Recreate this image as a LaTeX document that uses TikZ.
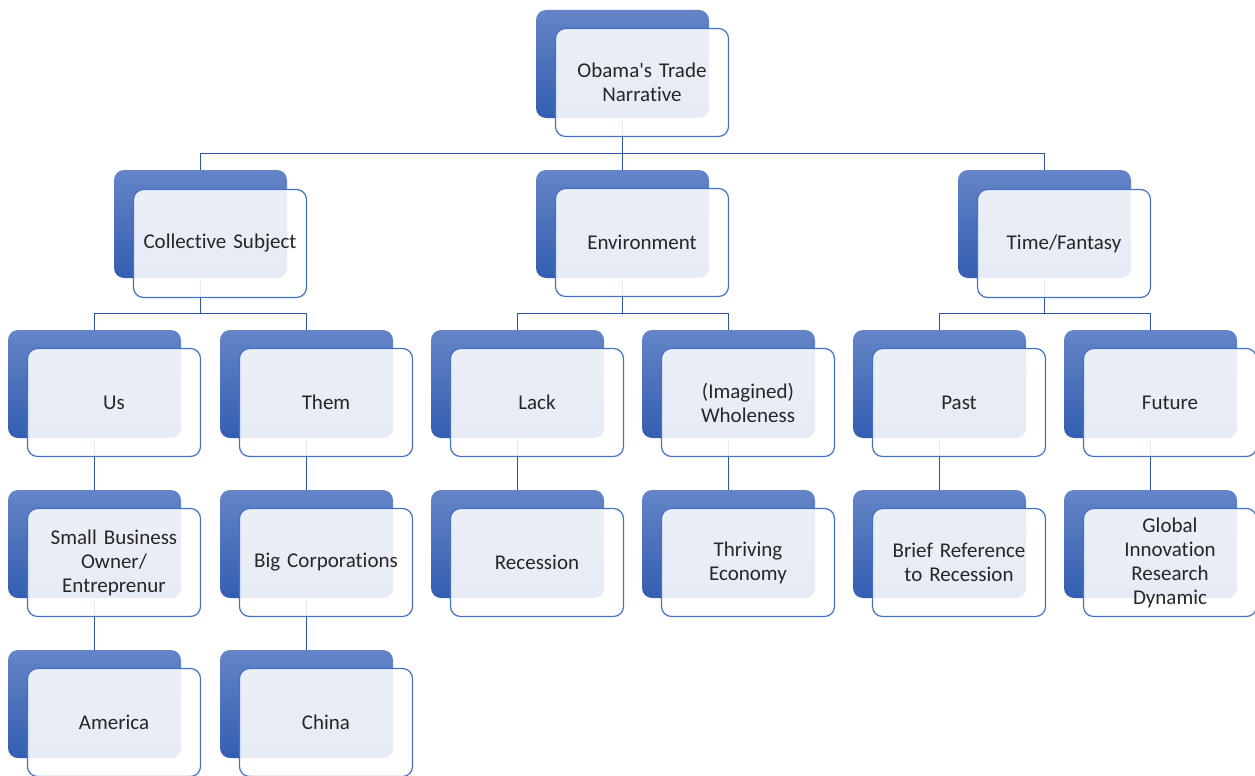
\documentclass[tikz,border=0pt]{standalone}
\usepackage{fontspec}
\setmainfont{Carlito}[Ligatures={NoCommon}]
\begin{document}
\begin{tikzpicture}[x=1pt,y=-1pt]
            \tikzstyle{back} = [rectangle, rounded corners=10pt,
            minimum width=173pt,
            minimum height=108pt,
            inner sep=0pt,
            top color=myblueA, bottom color=myblueB, draw=none]
            \tikzstyle{front} = [rectangle, rounded corners=10pt,
            minimum width=173pt,
            minimum height=108pt,
            text width=165pt,
            align=center,
            inner sep=0pt,
            text=mytext,
            font=\fontsize{21}{24}\selectfont,
            draw=myline, line width=1.2pt,
            fill=white, fill opacity=0.88, text opacity=1]
            \definecolor{myblueA}{RGB}{100, 132, 198}
            \definecolor{myblueB}{RGB}{52, 94, 178}
            \definecolor{myline}{RGB}{68, 114, 196}
            \definecolor{mylink}{RGB}{47, 85, 160}
            \definecolor{mytext}{RGB}{38, 38, 38}
            \tikzstyle{link} = [mylink, line width=1.4pt]
            \useasboundingbox (0,0) rectangle (1255,776);

            % back boxes
            \node (b0)[back] at (622.5,64) {};
            \node (b1)[back] at (200.5,224) {};
            \node (b2)[back] at (622.5,224) {};
            \node (b3)[back] at (1044.5,224) {};
            \node (b11)[back] at (94.5,384) {};
            \node (b12)[back] at (306.5,384) {};
            \node (b21)[back] at (517.5,384) {};
            \node (b22)[back] at (728.5,384) {};
            \node (b31)[back] at (939.5,384) {};
            \node (b32)[back] at (1150.5,384) {};
            \node (b111)[back] at (94.5,544) {};
            \node (b121)[back] at (306.5,544) {};
            \node (b211)[back] at (517.5,544) {};
            \node (b221)[back] at (728.5,544) {};
            \node (b311)[back] at (939.5,544) {};
            \node (b321)[back] at (1150.5,544) {};
            \node (b1111)[back] at (94.5,704) {};
            \node (b1211)[back] at (306.5,704) {};

            % connectors
            \draw [link] (b0.south) -- ++(0,35) -| (b1.north);
            \draw [link] (b0.south) -- (b2.north);
            \draw [link] (b0.south) -- ++(0,35) -| (b3.north);
            \draw [link] (b1.south) -- ++(0,35) -| (b11.north);
            \draw [link] (b1.south) -- ++(0,35) -| (b12.north);
            \draw [link] (b2.south) -- ++(0,35) -| (b21.north);
            \draw [link] (b2.south) -- ++(0,35) -| (b22.north);
            \draw [link] (b3.south) -- ++(0,35) -| (b31.north);
            \draw [link] (b3.south) -- ++(0,35) -| (b32.north);
            \draw [link] (b11) -- (b111);
            \draw [link] (b12) -- (b121);
            \draw [link] (b21) -- (b211);
            \draw [link] (b22) -- (b221);
            \draw [link] (b31) -- (b311);
            \draw [link] (b32) -- (b321);
            \draw [link] (b111) -- (b1111);
            \draw [link] (b121) -- (b1211);

            % front boxes
            \node (obama)[front] at ([shift={(19.5,18.5)}]b0) {Obama\textquotesingle s Trade\\ Narrative};
            \node (subject)[front] at ([shift={(19.5,19.5)}]b1) {Collective Subject};
            \node (environment)[front] at ([shift={(19.5,18.5)}]b2) {Environment};
            \node (time)[front] at ([shift={(19.5,19.5)}]b3) {Time/Fantasy};
            \node (us)[front] at ([shift={(19.5,18.5)}]b11) {Us};
            \node (them)[front] at ([shift={(19.5,18.5)}]b12) {Them};
            \node (lack)[front] at ([shift={(19.5,18.5)}]b21) {Lack};
            \node (wholeness)[front] at ([shift={(19.5,18.5)}]b22) {(Imagined)\\ Wholeness};
            \node (past)[front] at ([shift={(19.5,18.5)}]b31) {Past};
            \node (future)[front] at ([shift={(19.5,18.5)}]b32) {Future};
            \node (owner)[front] at ([shift={(19.5,18.5)}]b111) {Small Business\\ Owner/\\ Entreprenur};
            \node (corps)[front] at ([shift={(19.5,18.5)}]b121) {Big Corporations};
            \node (recession)[front] at ([shift={(19.5,18.5)}]b211) {Recession};
            \node (economy)[front] at ([shift={(19.5,18.5)}]b221) {Thriving\\ Economy};
            \node (brief)[front] at ([shift={(19.5,18.5)}]b311) {Brief Reference\\ to Recession};
            \node (global)[front] at ([shift={(19.5,18.5)}]b321) {Global\\ Innovation\\ Research\\ Dynamic};
            \node (america)[front] at ([shift={(19.5,18.5)}]b1111) {America};
            \node (china)[front] at ([shift={(19.5,18.5)}]b1211) {China};
        \end{tikzpicture}
\end{document}
